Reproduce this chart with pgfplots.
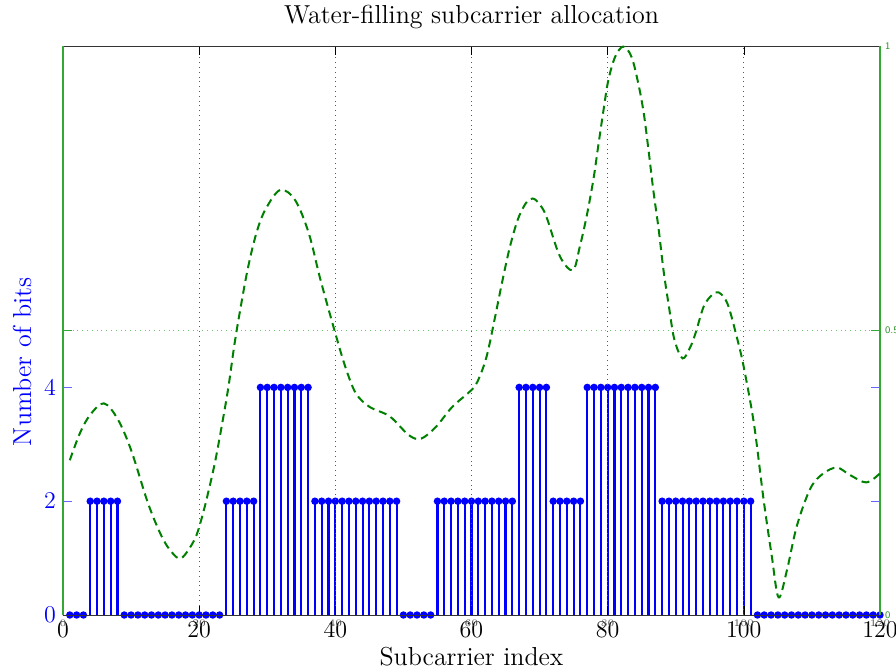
\documentclass[border=0pt]{standalone}
\usepackage{pgfplots}
\pgfplotsset{compat=1.18}

\definecolor{curvegreen}{rgb}{0,0.5,0}
\definecolor{axisgreen}{rgb}{0.2,0.66,0.2}

% bits allocated to each subcarrier
\pgfplotstableread{
x y
1 0
2 0
3 0
4 2
5 2
6 2
7 2
8 2
9 0
10 0
11 0
12 0
13 0
14 0
15 0
16 0
17 0
18 0
19 0
20 0
21 0
22 0
23 0
24 2
25 2
26 2
27 2
28 2
29 4
30 4
31 4
32 4
33 4
34 4
35 4
36 4
37 2
38 2
39 2
40 2
41 2
42 2
43 2
44 2
45 2
46 2
47 2
48 2
49 2
50 0
51 0
52 0
53 0
54 0
55 2
56 2
57 2
58 2
59 2
60 2
61 2
62 2
63 2
64 2
65 2
66 2
67 4
68 4
69 4
70 4
71 4
72 2
73 2
74 2
75 2
76 2
77 4
78 4
79 4
80 4
81 4
82 4
83 4
84 4
85 4
86 4
87 4
88 2
89 2
90 2
91 2
92 2
93 2
94 2
95 2
96 2
97 2
98 2
99 2
100 2
101 2
102 0
103 0
104 0
105 0
106 0
107 0
108 0
109 0
110 0
111 0
112 0
113 0
114 0
115 0
116 0
117 0
118 0
119 0
120 0
}\bitstable

% normalised channel gain
\pgfplotstableread{
x g
1 0.272
2.5 0.320
4 0.352
6 0.372
8 0.345
10 0.290
12.5 0.196
14.5 0.138
16 0.110
17.4 0.100
19.3 0.132
20.3 0.167
21.3 0.214
22.3 0.267
23.3 0.331
24.3 0.401
25.2 0.477
26.2 0.548
27.2 0.612
28.4 0.671
29.7 0.712
31.9 0.747
34.1 0.729
36.1 0.671
37.8 0.590
40 0.495
41.5 0.435
43 0.390
45 0.366
48 0.349
50.8 0.316
52.6 0.310
54.8 0.331
57.2 0.366
60.2 0.398
61.3 0.422
62.3 0.458
63.4 0.520
64.5 0.585
65.6 0.645
66.8 0.695
68 0.724
69 0.732
70 0.722
71 0.700
73 0.630
74.9 0.606
75.9 0.647
76.9 0.700
77.9 0.765
78.6 0.823
79.4 0.888
80.1 0.940
81.1 0.981
82.3 0.999
83.5 0.981
84.5 0.934
85.3 0.882
86.0 0.817
86.7 0.747
87.5 0.677
88.2 0.606
89.0 0.542
89.8 0.484
91 0.451
92.1 0.470
92.9 0.495
94.1 0.542
95.3 0.562
96.3 0.567
97.6 0.547
99 0.487
100 0.435
101.5 0.335
102.9 0.203
104.1 0.104
105.1 0.031
106.3 0.077
107.8 0.157
109.8 0.223
111.7 0.249
113.7 0.259
115.6 0.246
118 0.233
120 0.249
}\gaintable

\begin{document}
\begin{tikzpicture}
\pgfplotsset{
  bothaxes/.style={
    width=408.5pt, height=284.5pt, scale only axis,
    xmin=0, xmax=120,
    xtick={0,20,...,120},
    major tick length=4.5pt,
    separate axis lines,
    clip=false,
  },
}
\begin{axis}[
  bothaxes,
  name=bits,
  ymin=0, ymax=10,
  ytick={0,2,4},
  title={Water-filling subcarrier allocation},
  title style={font=\fontsize{13}{15}\selectfont, yshift=-1pt},
  xlabel={Subcarrier index},
  xlabel style={font=\fontsize{13}{15}\selectfont, yshift=2pt},
  ylabel={Number of bits},
  ylabel style={font=\fontsize{13}{15}\selectfont, blue,
    at={(axis description cs:-0.05,0.445)}, anchor=center},
  xticklabel style={font=\fontsize{13}{15}\selectfont, black},
  yticklabel style={font=\fontsize{13}{15}\selectfont, blue},
  x axis line style={black!80},
  y axis line style={blue},
  xtick style={black},
  ytick style={blue!60},
]
\addplot[ycomb, blue, line width=1.05pt, mark=*, mark size=1.3pt,
  mark options={fill=blue, solid}] table[x=x, y=y] {\bitstable};
\end{axis}

\begin{axis}[
  bothaxes,
  ymin=0, ymax=1,
  ytick={0,0.5,1},
  yticklabels={0,0.5,1},
  xmajorgrids, ymajorgrids,
  x grid style={dotted, black!65, line width=0.5pt},
  y grid style={dotted, axisgreen!70, line width=0.5pt},
  yticklabel pos=right,
  yticklabel style={font=\fontsize{5}{6}\sffamily, axisgreen!85!black, xshift=-1pt},
  xticklabel style={font=\fontsize{4}{5}\sffamily, black!70, yshift=1pt},
  x axis line style={black!80},
  y axis line style={axisgreen, line width=0.6pt},
  xtick style={black},
  ytick style={axisgreen},
]
\addplot[curvegreen, line width=1pt, dash pattern=on 4pt off 2.5pt, smooth, tension=0.55]
  table[x=x, y=g] {\gaintable};
\end{axis}

\pgfresetboundingbox
\path[use as bounding box]
  ([xshift=-31.5pt,yshift=-28pt]bits.south west) rectangle
  ([xshift=8pt,yshift=23pt]bits.north east);
\end{tikzpicture}
\end{document}
